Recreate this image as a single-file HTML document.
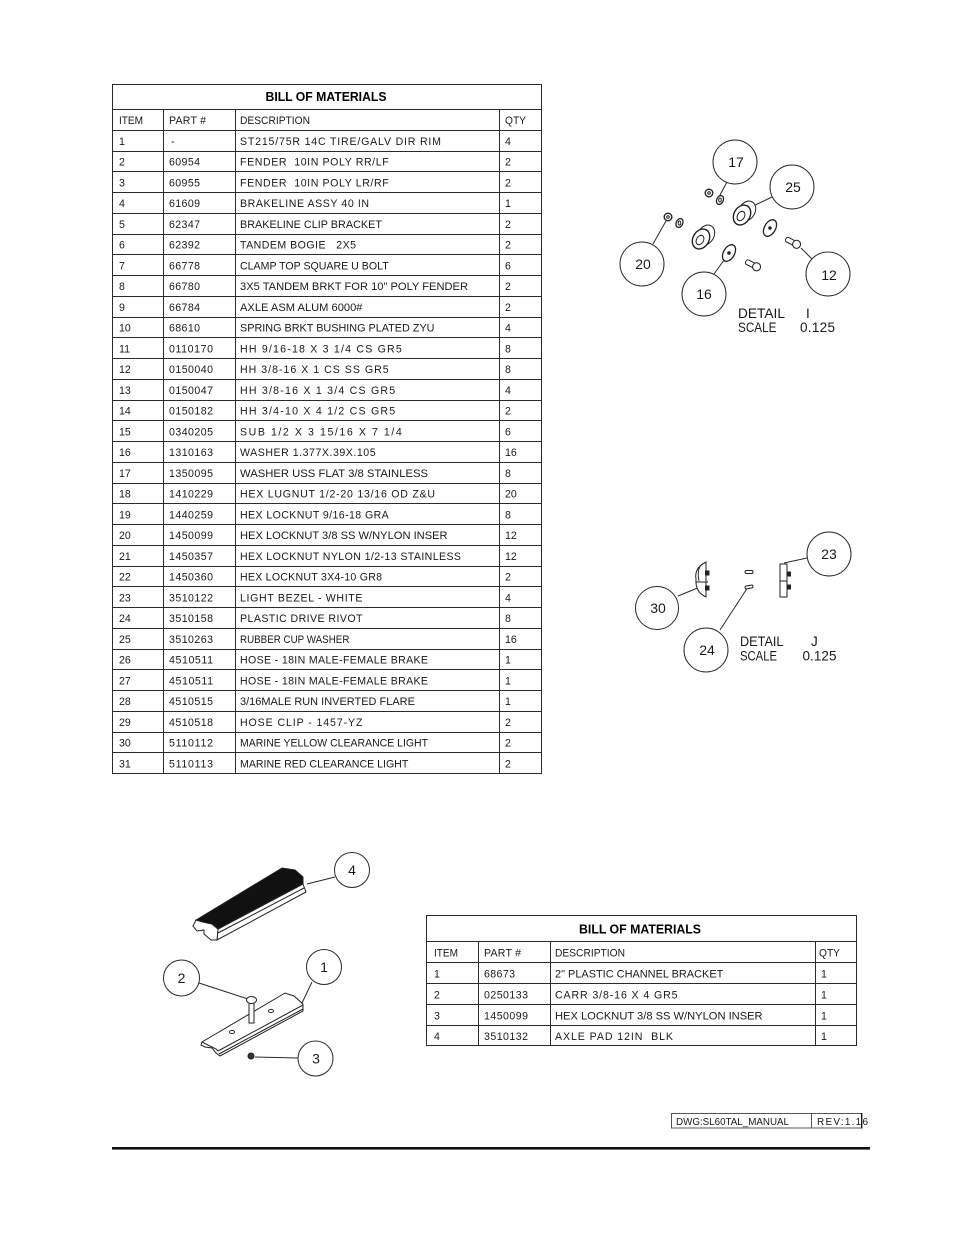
<!DOCTYPE html>
<html><head><meta charset="utf-8"><style>
html,body{margin:0;padding:0;background:#fff;}
svg{display:block;}
text{font-family:"Liberation Sans",sans-serif;fill:#1a1a1a;white-space:pre;}
.t{font-size:10.6px;}
.h{font-size:12.5px;font-weight:bold;fill:#000;}
.b{font-size:14px;}
.d{font-size:13.5px;}
.f{font-size:10px;}
.ln{stroke:#2a2a2a;stroke-width:1;fill:none;}
.p{stroke:#222;stroke-width:1;fill:#fff;}
</style></head><body>
<svg width="954" height="1235" viewBox="0 0 954 1235" xmlns="http://www.w3.org/2000/svg">
<rect width="954" height="1235" fill="#fff"/>

<!-- TOP BOM TABLE -->
<g class="ln">
<rect x="112.5" y="84.5" width="429" height="689"/>
<path d="M112.5 109.5H541.5M112.5 130.5H541.5M112.5 151.5H541.5M112.5 171.5H541.5M112.5 192.5H541.5M112.5 213.5H541.5M112.5 234.5H541.5M112.5 254.5H541.5M112.5 275.5H541.5M112.5 296.5H541.5M112.5 317.5H541.5M112.5 337.5H541.5M112.5 358.5H541.5M112.5 379.5H541.5M112.5 400.5H541.5M112.5 420.5H541.5M112.5 441.5H541.5M112.5 462.5H541.5M112.5 483.5H541.5M112.5 503.5H541.5M112.5 524.5H541.5M112.5 545.5H541.5M112.5 566.5H541.5M112.5 586.5H541.5M112.5 607.5H541.5M112.5 628.5H541.5M112.5 649.5H541.5M112.5 669.5H541.5M112.5 690.5H541.5M112.5 711.5H541.5M112.5 732.5H541.5M112.5 752.5H541.5"/>
<path d="M163.5 109.5V773.5M235.5 109.5V773.5M499.5 109.5V773.5"/>
</g>
<text class="h" x="326" y="101" text-anchor="middle" textLength="121" lengthAdjust="spacingAndGlyphs">BILL OF MATERIALS</text>

<text class="t" x="119" y="124" textLength="24" lengthAdjust="spacingAndGlyphs">ITEM</text>
<text class="t" x="169" y="124" textLength="37" lengthAdjust="spacing">PART #</text>
<text class="t" x="240" y="124" textLength="70" lengthAdjust="spacingAndGlyphs">DESCRIPTION</text>
<text class="t" x="505" y="124" textLength="21" lengthAdjust="spacingAndGlyphs">QTY</text>

<g>
<text class="t" x="119" y="144.75">1</text><text class="t" x="171" y="144.75">-</text><text class="t" x="240" y="144.75" textLength="201" lengthAdjust="spacing">ST215/75R 14C TIRE/GALV DIR RIM</text><text class="t" x="505" y="144.75">4</text>
<text class="t" x="119" y="165.5">2</text><text class="t" x="169" y="165.5" textLength="31" lengthAdjust="spacing">60954</text><text class="t" x="240" y="165.5" textLength="148.7" lengthAdjust="spacing">FENDER  10IN POLY RR/LF</text><text class="t" x="505" y="165.5">2</text>
<text class="t" x="119" y="186.25">3</text><text class="t" x="169" y="186.25" textLength="31" lengthAdjust="spacing">60955</text><text class="t" x="240" y="186.25" textLength="148.7" lengthAdjust="spacing">FENDER  10IN POLY LR/RF</text><text class="t" x="505" y="186.25">2</text>
<text class="t" x="119" y="207">4</text><text class="t" x="169" y="207" textLength="31" lengthAdjust="spacing">61609</text><text class="t" x="240" y="207" textLength="129" lengthAdjust="spacing">BRAKELINE ASSY 40 IN</text><text class="t" x="505" y="207">1</text>
<text class="t" x="119" y="227.75">5</text><text class="t" x="169" y="227.75" textLength="31" lengthAdjust="spacing">62347</text><text class="t" x="240" y="227.75" textLength="142" lengthAdjust="spacingAndGlyphs">BRAKELINE CLIP BRACKET</text><text class="t" x="505" y="227.75">2</text>
<text class="t" x="119" y="248.5">6</text><text class="t" x="169" y="248.5" textLength="31" lengthAdjust="spacing">62392</text><text class="t" x="240" y="248.5" textLength="116" lengthAdjust="spacing">TANDEM BOGIE   2X5</text><text class="t" x="505" y="248.5">2</text>
<text class="t" x="119" y="269.25">7</text><text class="t" x="169" y="269.25" textLength="31" lengthAdjust="spacing">66778</text><text class="t" x="240" y="269.25" textLength="148.7" lengthAdjust="spacingAndGlyphs">CLAMP TOP SQUARE U BOLT</text><text class="t" x="505" y="269.25">6</text>
<text class="t" x="119" y="290">8</text><text class="t" x="169" y="290" textLength="31" lengthAdjust="spacing">66780</text><text class="t" x="240" y="290" textLength="228" lengthAdjust="spacingAndGlyphs">3X5 TANDEM BRKT FOR 10" POLY FENDER</text><text class="t" x="505" y="290">2</text>
<text class="t" x="119" y="310.75">9</text><text class="t" x="169" y="310.75" textLength="31" lengthAdjust="spacing">66784</text><text class="t" x="240" y="310.75" textLength="122.5" lengthAdjust="spacingAndGlyphs">AXLE ASM ALUM 6000#</text><text class="t" x="505" y="310.75">2</text>
<text class="t" x="119" y="331.5">10</text><text class="t" x="169" y="331.5" textLength="31" lengthAdjust="spacing">68610</text><text class="t" x="240" y="331.5" textLength="194.5" lengthAdjust="spacingAndGlyphs">SPRING BRKT BUSHING PLATED ZYU</text><text class="t" x="505" y="331.5">4</text>
<text class="t" x="119" y="352.25">11</text><text class="t" x="169" y="352.25" textLength="44" lengthAdjust="spacing">0110170</text><text class="t" x="240" y="352.25" textLength="161.8" lengthAdjust="spacing">HH 9/16-18 X 3 1/4 CS GR5</text><text class="t" x="505" y="352.25">8</text>
<text class="t" x="119" y="373">12</text><text class="t" x="169" y="373" textLength="44" lengthAdjust="spacing">0150040</text><text class="t" x="240" y="373" textLength="148.7" lengthAdjust="spacing">HH 3/8-16 X 1 CS SS GR5</text><text class="t" x="505" y="373">8</text>
<text class="t" x="119" y="393.75">13</text><text class="t" x="169" y="393.75" textLength="44" lengthAdjust="spacing">0150047</text><text class="t" x="240" y="393.75" textLength="155.2" lengthAdjust="spacing">HH 3/8-16 X 1 3/4 CS GR5</text><text class="t" x="505" y="393.75">4</text>
<text class="t" x="119" y="414.5">14</text><text class="t" x="169" y="414.5" textLength="44" lengthAdjust="spacing">0150182</text><text class="t" x="240" y="414.5" textLength="155.2" lengthAdjust="spacing">HH 3/4-10 X 4 1/2 CS GR5</text><text class="t" x="505" y="414.5">2</text>
<text class="t" x="119" y="435.25">15</text><text class="t" x="169" y="435.25" textLength="44" lengthAdjust="spacing">0340205</text><text class="t" x="240" y="435.25" textLength="161.8" lengthAdjust="spacing">SUB 1/2 X 3 15/16 X 7 1/4</text><text class="t" x="505" y="435.25">6</text>
<text class="t" x="119" y="456">16</text><text class="t" x="169" y="456" textLength="44" lengthAdjust="spacing">1310163</text><text class="t" x="240" y="456" textLength="135.6" lengthAdjust="spacing">WASHER 1.377X.39X.105</text><text class="t" x="505" y="456">16</text>
<text class="t" x="119" y="476.75">17</text><text class="t" x="169" y="476.75" textLength="44" lengthAdjust="spacing">1350095</text><text class="t" x="240" y="476.75" textLength="188" lengthAdjust="spacingAndGlyphs">WASHER USS FLAT 3/8 STAINLESS</text><text class="t" x="505" y="476.75">8</text>
<text class="t" x="119" y="497.5">18</text><text class="t" x="169" y="497.5" textLength="44" lengthAdjust="spacing">1410229</text><text class="t" x="240" y="497.5" textLength="195" lengthAdjust="spacing">HEX LUGNUT 1/2-20 13/16 OD Z&amp;U</text><text class="t" x="505" y="497.5">20</text>
<text class="t" x="119" y="518.25">19</text><text class="t" x="169" y="518.25" textLength="44" lengthAdjust="spacing">1440259</text><text class="t" x="240" y="518.25" textLength="148.7" lengthAdjust="spacing">HEX LOCKNUT 9/16-18 GRA</text><text class="t" x="505" y="518.25">8</text>
<text class="t" x="119" y="539">20</text><text class="t" x="169" y="539" textLength="44" lengthAdjust="spacing">1450099</text><text class="t" x="240" y="539" textLength="207.6" lengthAdjust="spacingAndGlyphs">HEX LOCKNUT 3/8 SS W/NYLON INSER</text><text class="t" x="505" y="539">12</text>
<text class="t" x="119" y="559.75">21</text><text class="t" x="169" y="559.75" textLength="44" lengthAdjust="spacing">1450357</text><text class="t" x="240" y="559.75" textLength="221" lengthAdjust="spacing">HEX LOCKNUT NYLON 1/2-13 STAINLESS</text><text class="t" x="505" y="559.75">12</text>
<text class="t" x="119" y="580.5">22</text><text class="t" x="169" y="580.5" textLength="44" lengthAdjust="spacing">1450360</text><text class="t" x="240" y="580.5" textLength="142" lengthAdjust="spacing">HEX LOCKNUT 3X4-10 GR8</text><text class="t" x="505" y="580.5">2</text>
<text class="t" x="119" y="601.25">23</text><text class="t" x="169" y="601.25" textLength="44" lengthAdjust="spacing">3510122</text><text class="t" x="240" y="601.25" textLength="122.5" lengthAdjust="spacing">LIGHT BEZEL - WHITE</text><text class="t" x="505" y="601.25">4</text>
<text class="t" x="119" y="622">24</text><text class="t" x="169" y="622" textLength="44" lengthAdjust="spacing">3510158</text><text class="t" x="240" y="622" textLength="122.5" lengthAdjust="spacing">PLASTIC DRIVE RIVOT</text><text class="t" x="505" y="622">8</text>
<text class="t" x="119" y="642.75">25</text><text class="t" x="169" y="642.75" textLength="44" lengthAdjust="spacing">3510263</text><text class="t" x="240" y="642.75" textLength="109.4" lengthAdjust="spacingAndGlyphs">RUBBER CUP WASHER</text><text class="t" x="505" y="642.75">16</text>
<text class="t" x="119" y="663.5">26</text><text class="t" x="169" y="663.5" textLength="44" lengthAdjust="spacing">4510511</text><text class="t" x="240" y="663.5" textLength="188" lengthAdjust="spacing">HOSE - 18IN MALE-FEMALE BRAKE</text><text class="t" x="505" y="663.5">1</text>
<text class="t" x="119" y="684.25">27</text><text class="t" x="169" y="684.25" textLength="44" lengthAdjust="spacing">4510511</text><text class="t" x="240" y="684.25" textLength="188" lengthAdjust="spacing">HOSE - 18IN MALE-FEMALE BRAKE</text><text class="t" x="505" y="684.25">1</text>
<text class="t" x="119" y="705">28</text><text class="t" x="169" y="705" textLength="44" lengthAdjust="spacing">4510515</text><text class="t" x="240" y="705" textLength="174.9" lengthAdjust="spacingAndGlyphs">3/16MALE RUN INVERTED FLARE</text><text class="t" x="505" y="705">1</text>
<text class="t" x="119" y="725.75">29</text><text class="t" x="169" y="725.75" textLength="44" lengthAdjust="spacing">4510518</text><text class="t" x="240" y="725.75" textLength="122.5" lengthAdjust="spacing">HOSE CLIP - 1457-YZ</text><text class="t" x="505" y="725.75">2</text>
<text class="t" x="119" y="746.5">30</text><text class="t" x="169" y="746.5" textLength="44" lengthAdjust="spacing">5110112</text><text class="t" x="240" y="746.5" textLength="188" lengthAdjust="spacingAndGlyphs">MARINE YELLOW CLEARANCE LIGHT</text><text class="t" x="505" y="746.5">2</text>
<text class="t" x="119" y="767.25">31</text><text class="t" x="169" y="767.25" textLength="44" lengthAdjust="spacing">5110113</text><text class="t" x="240" y="767.25" textLength="168.3" lengthAdjust="spacingAndGlyphs">MARINE RED CLEARANCE LIGHT</text><text class="t" x="505" y="767.25">2</text>
</g>

<!-- DETAIL I -->
<g class="ln">
<circle cx="735" cy="162" r="22"/>
<circle cx="792" cy="187" r="22"/>
<circle cx="642" cy="264" r="22"/>
<circle cx="704" cy="294" r="22"/>
<circle cx="828" cy="274" r="22"/>
<path d="M727 182L720 195M772 197L751 207M653 244L666 221M714 274L727 256M812 259L801 248"/>
</g>
<text class="b" x="736" y="167" text-anchor="middle">17</text>
<text class="b" x="793" y="192" text-anchor="middle">25</text>
<text class="b" x="643" y="269" text-anchor="middle">20</text>
<text class="b" x="704" y="299" text-anchor="middle">16</text>
<text class="b" x="829" y="280" text-anchor="middle">12</text>
<g class="p">
<circle cx="709" cy="193" r="3.8" stroke-width="1.4"/>
<circle cx="709" cy="193" r="1.3"/>
<ellipse cx="720" cy="200" rx="3.3" ry="4.6" transform="rotate(25 720 200)" stroke-width="1.3"/>
<ellipse cx="720" cy="200" rx="1.3" ry="2"/>
<circle cx="668" cy="217" r="3.8" stroke-width="1.4"/>
<circle cx="668" cy="217" r="1.3"/>
<ellipse cx="679.5" cy="223" rx="3.3" ry="4.6" transform="rotate(25 679.5 223)" stroke-width="1.3"/>
<ellipse cx="679.5" cy="223" rx="1.3" ry="2"/>
<ellipse cx="747" cy="211" rx="8" ry="10.5" transform="rotate(30 747 211)"/>
<ellipse cx="742" cy="215" rx="8" ry="10.5" transform="rotate(30 742 215)" stroke-width="1.4"/>
<ellipse cx="741" cy="216" rx="3.5" ry="5" transform="rotate(30 741 216)"/>
<ellipse cx="706" cy="235" rx="8" ry="10.5" transform="rotate(30 706 235)"/>
<ellipse cx="701" cy="239" rx="8" ry="10.5" transform="rotate(30 701 239)" stroke-width="1.4"/>
<ellipse cx="700" cy="240" rx="3.5" ry="5" transform="rotate(30 700 240)"/>
<ellipse cx="729" cy="253" rx="5.5" ry="9" transform="rotate(30 729 253)" stroke-width="1.3"/>
<circle cx="729" cy="253" r="1.3" fill="#222"/>
<ellipse cx="770" cy="228" rx="5.5" ry="9" transform="rotate(30 770 228)" stroke-width="1.3"/>
<circle cx="770" cy="228" r="1.3" fill="#222"/>
<g transform="translate(793 242.5) rotate(27)"><rect x="-8" y="-2.5" width="10" height="5" rx="2"/><circle cx="4" cy="0" r="4"/></g>
<g transform="translate(753 265) rotate(27)"><rect x="-8" y="-2.5" width="10" height="5" rx="2"/><circle cx="4" cy="0" r="4"/></g>
</g>
<text class="d" x="738" y="318" textLength="47" lengthAdjust="spacingAndGlyphs">DETAIL</text>
<text class="d" x="806" y="318">I</text>
<text class="d" x="738" y="332" textLength="38.5" lengthAdjust="spacingAndGlyphs">SCALE</text>
<text class="d" x="800" y="332" textLength="35" lengthAdjust="spacing">0.125</text>

<!-- DETAIL J -->
<g class="ln">
<circle cx="829" cy="554" r="22"/>
<circle cx="657" cy="608" r="21.5"/>
<circle cx="706" cy="650" r="22"/>
<path d="M807 558L784 563M678 596L700 587M720 630L748 587"/>
</g>
<text class="b" x="829" y="559" text-anchor="middle">23</text>
<text class="b" x="658" y="613" text-anchor="middle">30</text>
<text class="b" x="707" y="655" text-anchor="middle">24</text>
<g class="p">
<path d="M706 562 Q694 568 696 579 Q695 592 706 597 Z"/>
<path d="M696 582 L708 582" />
<path d="M700 566 Q697 572 699 581" fill="none"/>
<rect x="705.5" y="571" width="3.5" height="4" fill="#222"/>
<rect x="705.5" y="586" width="3.5" height="4" fill="#222"/>
<rect x="745" y="570.5" width="8" height="3" rx="1.5"/>
<rect x="745" y="585.5" width="8" height="3" rx="1.5" transform="rotate(-10 749 587)"/>
<rect x="780" y="564" width="7" height="33"/>
<path d="M780 581H787"/>
<rect x="787" y="572" width="3.5" height="4" fill="#222"/>
<rect x="787" y="585" width="3.5" height="4" fill="#222"/>
</g>
<text class="d" x="740" y="646" textLength="43.5" lengthAdjust="spacingAndGlyphs">DETAIL</text>
<text class="d" x="811" y="646">J</text>
<text class="d" x="740" y="660.5" textLength="37" lengthAdjust="spacingAndGlyphs">SCALE</text>
<text class="d" x="802.5" y="660.5" textLength="34" lengthAdjust="spacing">0.125</text>

<!-- BOTTOM LEFT DRAWING -->
<g class="ln">
<circle cx="352" cy="870" r="17.5"/>
<circle cx="181.5" cy="978" r="18"/>
<circle cx="324" cy="967" r="17.5"/>
<circle cx="315.5" cy="1058.5" r="17.5"/>
<path d="M335 877L307 884M199 983L248 999M312 982L302 1003M255 1057L298 1058"/>
</g>
<text class="b" x="352" y="875" text-anchor="middle">4</text>
<text class="b" x="181.5" y="983" text-anchor="middle">2</text>
<text class="b" x="324" y="972" text-anchor="middle">1</text>
<text class="b" x="316" y="1063.5" text-anchor="middle">3</text>
<g class="p">
<path d="M218 929 L303 884 L306 892 L217 940 Z"/>
<path d="M218 933 L304 888" fill="none"/>
<path d="M196 920 L193 926 L197 931 L204 930 L204 934 L211 940 L217 940 L218 929 L212 924 L203 922 Z"/>
<path d="M196 920 L282 868 L295 870 L303 877 L303 884 L218 929 L212 924 L203 922 Z" fill="#111"/>
</g>
<g class="p">
<path d="M202 1042 L285 993 L294 996 L303 1004 L303 1011 L220 1056 L216 1053 L212 1048 L205 1047 L201 1045 Z"/>
<path d="M218 1051 L303 1005 M219 1054 L303 1009 M202 1042 L216 1049 L218 1051" fill="none"/>
<ellipse cx="271" cy="1011" rx="2.5" ry="1.6"/>
<ellipse cx="232" cy="1032" rx="2.5" ry="1.6"/>
<rect x="249" y="1002" width="5" height="21"/>
<ellipse cx="251.5" cy="1000" rx="5" ry="3.5"/>
<circle cx="251" cy="1056" r="3" fill="#333"/>
</g>

<!-- BOTTOM BOM TABLE -->
<g class="ln">
<rect x="426.5" y="915.5" width="430" height="130"/>
<path d="M426.5 941.5H856.5M426.5 962.5H856.5M426.5 983.5H856.5M426.5 1004.5H856.5M426.5 1025.5H856.5"/>
<path d="M478.5 941.5V1045.5M550.5 941.5V1045.5M815.5 941.5V1045.5"/>
</g>
<text class="h" x="640" y="933.5" text-anchor="middle" textLength="122" lengthAdjust="spacingAndGlyphs">BILL OF MATERIALS</text>
<text class="t" x="434" y="956.5" textLength="24" lengthAdjust="spacingAndGlyphs">ITEM</text>
<text class="t" x="484" y="956.5" textLength="37" lengthAdjust="spacing">PART #</text>
<text class="t" x="555" y="956.5" textLength="70" lengthAdjust="spacingAndGlyphs">DESCRIPTION</text>
<text class="t" x="819" y="956.5" textLength="21" lengthAdjust="spacingAndGlyphs">QTY</text>
<text class="t" x="434" y="977.5">1</text><text class="t" x="484" y="977.5" textLength="31" lengthAdjust="spacing">68673</text><text class="t" x="555" y="977.5" textLength="168.3" lengthAdjust="spacingAndGlyphs">2" PLASTIC CHANNEL BRACKET</text><text class="t" x="821" y="977.5">1</text>
<text class="t" x="434" y="998.5">2</text><text class="t" x="484" y="998.5" textLength="44" lengthAdjust="spacing">0250133</text><text class="t" x="555" y="998.5" textLength="122.5" lengthAdjust="spacing">CARR 3/8-16 X 4 GR5</text><text class="t" x="821" y="998.5">1</text>
<text class="t" x="434" y="1019.5">3</text><text class="t" x="484" y="1019.5" textLength="44" lengthAdjust="spacing">1450099</text><text class="t" x="555" y="1019.5" textLength="207.6" lengthAdjust="spacingAndGlyphs">HEX LOCKNUT 3/8 SS W/NYLON INSER</text><text class="t" x="821" y="1019.5">1</text>
<text class="t" x="434" y="1040">4</text><text class="t" x="484" y="1040" textLength="44" lengthAdjust="spacing">3510132</text><text class="t" x="555" y="1040" textLength="118" lengthAdjust="spacing">AXLE PAD 12IN  BLK</text><text class="t" x="821" y="1040">1</text>

<!-- FOOTER -->
<g class="ln">
<rect x="671.5" y="1113.5" width="190.5" height="14.5" stroke="#555"/>
<path d="M811.5 1113.5V1128" stroke="#555"/>
<path d="M861.5 1113V1128.5" stroke="#111"/>
</g>
<text class="f" x="676" y="1125" textLength="113" lengthAdjust="spacingAndGlyphs">DWG:SL60TAL_MANUAL</text>
<text class="f" x="817" y="1125" textLength="51" lengthAdjust="spacing">REV:1.16</text>
<rect x="112" y="1147" width="758" height="2.6" fill="#111"/>
</svg>
</body></html>
